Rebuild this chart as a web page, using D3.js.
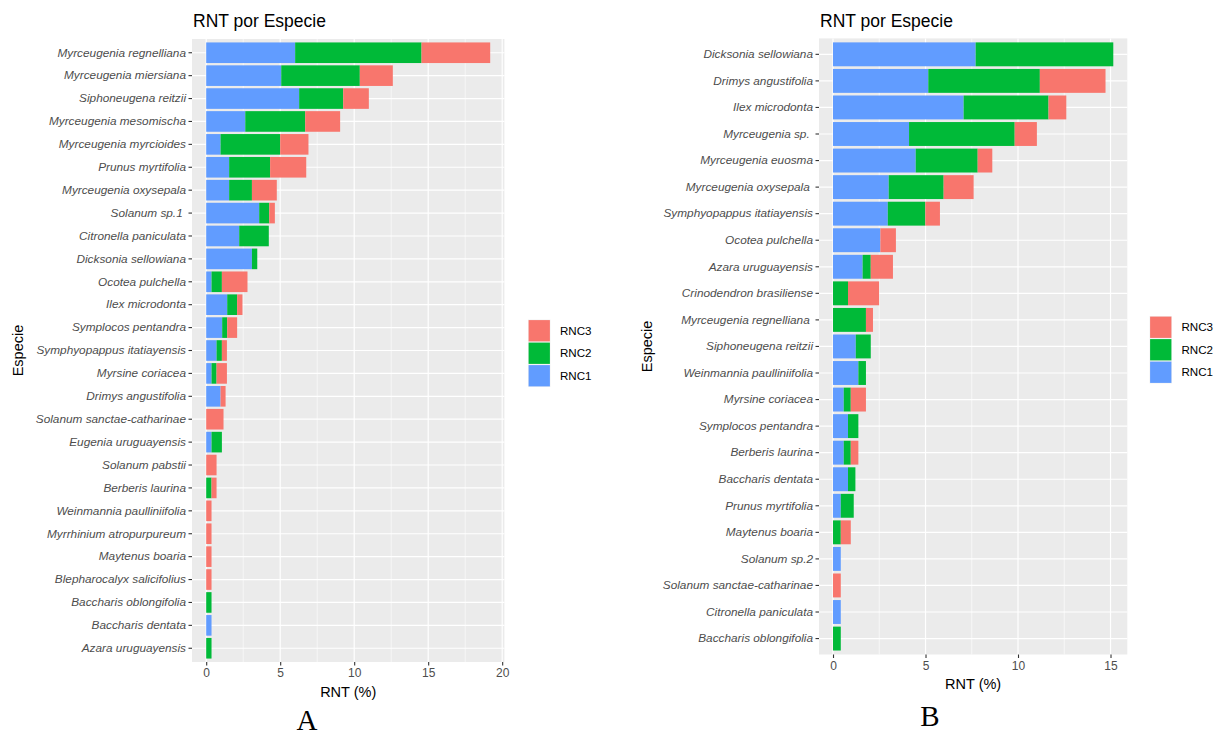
<!DOCTYPE html>
<html>
<head>
<meta charset="utf-8">
<script src="https://cdn.jsdelivr.net/npm/d3@7"></script>
<style>
  body { margin: 0; background: #fff; }
  svg { display: block; }
  text { font-family: "Liberation Sans", Arial, Helvetica, sans-serif; }
</style>
</head>
<body>
<svg id="chart" width="1221" height="736"></svg>
<script>
// ---------- Data ----------
const seriesKeys = ["RNC1", "RNC2", "RNC3"];
const legendOrder = ["RNC3", "RNC2", "RNC1"];
const seriesColors = ["#619CFF", "#00BA38", "#F8766D"];

const speciesA = [
  "Myrceugenia regnelliana", "Myrceugenia miersiana", "Siphoneugena reitzii",
  "Myrceugenia mesomischa", "Myrceugenia myrcioides", "Prunus myrtifolia",
  "Myrceugenia oxysepala", "Solanum sp.1 ", "Citronella paniculata",
  "Dicksonia sellowiana", "Ocotea pulchella", "Ilex microdonta",
  "Symplocos pentandra", "Symphyopappus itatiayensis", "Myrsine coriacea",
  "Drimys angustifolia", "Solanum sanctae-catharinae", "Eugenia uruguayensis",
  "Solanum pabstii", "Berberis laurina", "Weinmannia paulliniifolia",
  "Myrrhinium atropurpureum", "Maytenus boaria", "Blepharocalyx salicifolius",
  "Baccharis oblongifolia", "Baccharis dentata", "Azara uruguayensis"
];
const rnc1A = [6.01, 5.07, 6.28, 2.64, 0.97, 1.55, 1.55, 3.58, 2.23, 3.09, 0.36, 1.42, 1.08, 0.70, 0.36, 0.97, 0, 0.36, 0, 0, 0, 0, 0, 0, 0, 0.36, 0];
const rnc2A = [8.54, 5.31, 2.98, 4.05, 4.03, 2.77, 1.54, 0.68, 2.00, 0.36, 0.70, 0.67, 0.34, 0.36, 0.34, 0, 0, 0.70, 0, 0.36, 0, 0, 0, 0, 0.36, 0, 0.36];
const rnc3A = [4.64, 2.23, 1.73, 2.36, 1.91, 2.44, 1.68, 0.38, 0, 0, 1.73, 0.36, 0.67, 0.34, 0.70, 0.34, 1.17, 0, 0.70, 0.34, 0.36, 0.36, 0.36, 0.36, 0, 0, 0];
const ticksA = [0, 5, 10, 15, 20];

const speciesB = [
  "Dicksonia sellowiana", "Drimys angustifolia", "Ilex microdonta",
  "Myrceugenia sp. ", "Myrceugenia euosma", "Myrceugenia oxysepala ",
  "Symphyopappus itatiayensis", "Ocotea pulchella", "Azara uruguayensis",
  "Crinodendron brasiliense", "Myrceugenia regnelliana ", "Siphoneugena reitzii",
  "Weinmannia paulliniifolia", "Myrsine coriacea", "Symplocos pentandra",
  "Berberis laurina", "Baccharis dentata", "Prunus myrtifolia",
  "Maytenus boaria", "Solanum sp.2", "Solanum sanctae-catharinae",
  "Citronella paniculata", "Baccharis oblongifolia"
];
const rnc1B = [7.71, 5.15, 7.06, 4.11, 4.47, 3.01, 2.96, 2.56, 1.60, 0, 0, 1.23, 1.37, 0.58, 0.81, 0.58, 0.81, 0.42, 0, 0.42, 0, 0.42, 0];
const rnc2B = [7.44, 6.03, 4.59, 5.71, 3.35, 2.97, 2.03, 0, 0.44, 0.81, 1.78, 0.81, 0.41, 0.38, 0.56, 0.38, 0.40, 0.70, 0.42, 0, 0, 0, 0.42];
const rnc3B = [0, 3.55, 0.96, 1.20, 0.79, 1.62, 0.79, 0.84, 1.20, 1.68, 0.38, 0, 0, 0.82, 0, 0.41, 0, 0, 0.54, 0, 0.42, 0, 0];
const ticksB = [0, 5, 10, 15];

const chartTitle = "RNT por Especie";
const xTitle = "RNT (%)";
const yTitle = "Especie";

// ---------- Drawing ----------
const svg = d3.select("#chart");
const color = d3.scaleOrdinal().domain(seriesKeys).range(seriesColors);

function drawPanel(cfg) {
  const rows = cfg.species.map((s, i) => ({
    species: s, RNC1: cfg.r1[i], RNC2: cfg.r2[i], RNC3: cfg.r3[i]
  }));
  const g = svg.append("g");
  const maxTotal = d3.max(rows, d => d.RNC1 + d.RNC2 + d.RNC3);

  const x = d3.scaleLinear()
    .domain([-0.05 * maxTotal, 1.05 * maxTotal])
    .range([cfg.left, cfg.right]);
  const y = d3.scaleBand()
    .domain(cfg.species)
    .range([cfg.top, cfg.bottom])
    .paddingInner(0.1)
    .paddingOuter(0.15);

  // panel background
  g.append("rect")
    .attr("x", cfg.left).attr("y", cfg.top)
    .attr("width", cfg.right - cfg.left).attr("height", cfg.bottom - cfg.top)
    .attr("fill", "#EBEBEB");

  // minor grid
  const minor = [];
  for (let i = 0; i < cfg.ticks.length; i++) {
    const m = cfg.ticks[i] + 2.5;
    if (x(m) < cfg.right) minor.push(m);
  }
  if (x(-2.5) > cfg.left) minor.push(-2.5);
  g.selectAll(".minor").data(minor).enter().append("line")
    .attr("x1", d => x(d)).attr("x2", d => x(d))
    .attr("y1", cfg.top).attr("y2", cfg.bottom)
    .attr("stroke", "#fff").attr("stroke-width", 0.6);

  // major grid
  g.selectAll(".majorx").data(cfg.ticks).enter().append("line")
    .attr("x1", d => x(d)).attr("x2", d => x(d))
    .attr("y1", cfg.top).attr("y2", cfg.bottom)
    .attr("stroke", "#fff").attr("stroke-width", 1.2);
  g.selectAll(".majory").data(cfg.species).enter().append("line")
    .attr("x1", cfg.left).attr("x2", cfg.right)
    .attr("y1", d => y(d) + y.bandwidth() / 2).attr("y2", d => y(d) + y.bandwidth() / 2)
    .attr("stroke", "#fff").attr("stroke-width", 1.2);

  // stacked bars
  const stacked = d3.stack().keys(seriesKeys)(rows);
  g.selectAll(".series").data(stacked).enter().append("g")
    .attr("fill", d => color(d.key))
    .selectAll("rect").data(d => d.filter(s => s[1] - s[0] > 0)).enter().append("rect")
    .attr("x", d => x(d[0]))
    .attr("width", d => x(d[1]) - x(d[0]))
    .attr("y", d => y(d.data.species))
    .attr("height", y.bandwidth());

  // y axis
  const yAxis = g.append("g")
    .attr("transform", `translate(${cfg.left},0)`)
    .call(d3.axisLeft(y).tickSize(3.5).tickPadding(2.5));
  yAxis.select(".domain").remove();
  yAxis.selectAll(".tick line").attr("stroke", "#333333").attr("stroke-width", 1.1);
  yAxis.selectAll(".tick text")
    .attr("fill", "#4D4D4D")
    .style("font-size", "11.8px")
    .style("font-style", "italic")
    .style("white-space", "pre");

  // x axis
  const xAxis = g.append("g")
    .attr("transform", `translate(0,${cfg.bottom})`)
    .call(d3.axisBottom(x).tickValues(cfg.ticks).tickFormat(d3.format("d")).tickSize(3.5).tickPadding(3));
  xAxis.select(".domain").remove();
  xAxis.selectAll(".tick line").attr("stroke", "#333333").attr("stroke-width", 1.1);
  xAxis.selectAll(".tick text").attr("fill", "#4D4D4D").style("font-size", "12px");

  // titles
  g.append("text")
    .attr("x", cfg.left + 1).attr("y", 27)
    .style("font-size", "17.5px").attr("fill", "#000")
    .text(chartTitle);
  g.append("text")
    .attr("x", (cfg.left + cfg.right) / 2).attr("y", cfg.xTitleY)
    .attr("text-anchor", "middle")
    .style("font-size", "14.5px").attr("fill", "#000")
    .text(xTitle);
  g.append("text")
    .attr("transform", `translate(${cfg.yTitleX},${(cfg.top + cfg.bottom) / 2}) rotate(-90)`)
    .attr("text-anchor", "middle")
    .style("font-size", "14.5px").attr("fill", "#000")
    .text(yTitle);

  // legend
  const keySize = 22.5;
  const lg = g.append("g");
  legendOrder.forEach((k, i) => {
    lg.append("rect")
      .attr("x", cfg.legendX).attr("y", cfg.legendY + i * keySize)
      .attr("width", keySize).attr("height", keySize)
      .attr("fill", "#F2F2F2");
    lg.append("rect")
      .attr("x", cfg.legendX + 0.6).attr("y", cfg.legendY + i * keySize + 0.6)
      .attr("width", keySize - 1.2).attr("height", keySize - 1.2)
      .attr("fill", color(k));
    lg.append("text")
      .attr("x", cfg.legendX + keySize + 9.5)
      .attr("y", cfg.legendY + i * keySize + keySize / 2)
      .attr("dy", "0.35em")
      .style("font-size", "11.6px").attr("fill", "#000")
      .text(k);
  });

  // panel letter
  g.append("text")
    .attr("x", cfg.letterX).attr("y", cfg.letterY)
    .attr("text-anchor", "middle")
    .style("font-family", '"Liberation Serif", "DejaVu Serif", serif')
    .style("font-size", "29px").attr("fill", "#000")
    .text(cfg.letter);
}

drawPanel({
  species: speciesA, r1: rnc1A, r2: rnc2A, r3: rnc3A, ticks: ticksA,
  left: 192, right: 504.4, top: 39, bottom: 662,
  xTitleY: 697, yTitleX: 23,
  legendX: 528, legendY: 319.5,
  letter: "A", letterX: 307, letterY: 729.5
});

drawPanel({
  species: speciesB, r1: rnc1B, r2: rnc2B, r3: rnc3B, ticks: ticksB,
  left: 819, right: 1127.3, top: 38.4, bottom: 654.5,
  xTitleY: 689, yTitleX: 652,
  legendX: 1149.5, legendY: 316,
  letter: "B", letterX: 930, letterY: 726
});
</script>
</body>
</html>
